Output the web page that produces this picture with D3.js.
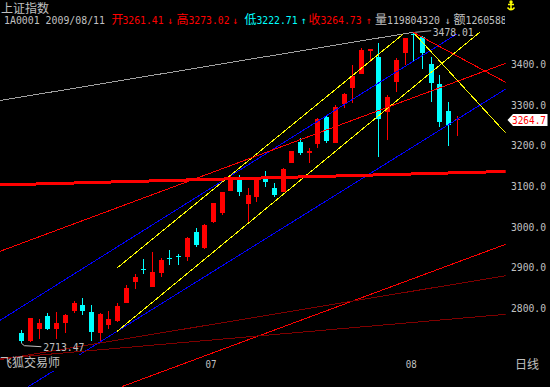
<!DOCTYPE html>
<html>
<head>
<meta charset="utf-8">
<script src="https://cdn.jsdelivr.net/npm/d3@7"></script>
<style>
  html, body { margin: 0; padding: 0; background: #000; overflow: hidden; }
</style>
</head>
<body>
<div id="root"></div>
<script>
// daily bars, 2009-06-02 .. 2009-08-11
const dates = [
  "06-02","06-03","06-04","06-05","06-08","06-09","06-10","06-11","06-12","06-15",
  "06-16","06-17","06-18","06-19","06-22","06-23","06-24","06-25","06-26","06-29",
  "06-30","07-01","07-02","07-03","07-06","07-07","07-08","07-09","07-10","07-13",
  "07-14","07-15","07-16","07-17","07-20","07-21","07-22","07-23","07-24","07-27",
  "07-28","07-29","07-30","07-31","08-03","08-04","08-05","08-06","08-07","08-10",
  "08-11"
];
const open = [
  2737.8, 2719.6, 2748.4, 2780.3, 2748.4, 2763.2, 2793.4, 2807.4, 2790.9, 2739.3,
  2758.2, 2768.8, 2811.6, 2864.7, 2895.5, 2850.9, 2886.8, 2922.5, 2927.5, 2926.1,
  2987.6, 2946.8, 3012.2, 3034.3, 3088.4, 3114.8, 3055.0, 3072.2, 3116.5, 3094.3,
  3086.0, 3155.8, 3208.9, 3180.4, 3202.5, 3270.4, 3206.5, 3300.9, 3340.2, 3374.7,
  3432.7, 3418.0, 3281.2, 3356.5, 3426.3, 3474.5, 3467.1, 3400.0, 3350.1, 3284.4,
  3261.41
];
const high = [
  2745.9, 2776.2, 2772.2, 2787.7, 2790.9, 2785.3, 2817.2, 2824.6, 2807.4, 2788.4,
  2792.6, 2811.6, 2856.6, 2884.3, 2919.8, 2937.7, 2923.7, 2942.6, 2932.0, 2973.9,
  2996.0, 3006.6, 3058.9, 3086.0, 3127.0, 3127.0, 3095.8, 3122.9, 3136.9, 3108.1,
  3145.0, 3186.1, 3217.3, 3194.2, 3268.0, 3274.6, 3299.2, 3329.4, 3397.5, 3439.3,
  3436.1, 3450.9, 3323.8, 3414.0, 3463.2, 3478.01, 3470.0, 3418.0, 3373.0, 3305.8,
  3273.02
];
const low = [
  2713.47, 2716.4, 2724.5, 2745.9, 2724.5, 2739.3, 2787.0, 2782.8, 2719.6, 2719.6,
  2747.6, 2764.8, 2811.6, 2846.7, 2882.8, 2850.9, 2877.0, 2905.7, 2905.7, 2916.3,
  2950.7, 2944.3, 3008.3, 3028.7, 3088.4, 3076.2, 3009.8, 3061.4, 3098.3, 3073.7,
  3086.0, 3155.8, 3176.2, 3157.3, 3192.7, 3206.5, 3206.5, 3291.1, 3304.8, 3374.7,
  3404.2, 3172.0, 3213.1, 3331.9, 3397.5, 3404.2, 3388.0, 3307.3, 3245.8, 3199.1,
  3222.71
];
const close = [
  2719.6, 2776.2, 2763.2, 2748.4, 2763.2, 2782.9, 2813.0, 2793.4, 2740.3, 2785.3,
  2772.2, 2805.7, 2849.9, 2877.0, 2895.0, 2888.5, 2918.0, 2922.0, 2927.0, 2972.1,
  2954.9, 3004.1, 3058.9, 3084.5, 3121.4, 3086.0, 3077.9, 3118.9, 3110.6, 3077.9,
  3141.8, 3186.1, 3181.9, 3186.1, 3264.8, 3210.6, 3295.0, 3326.2, 3370.5, 3434.4,
  3436.1, 3264.8, 3319.6, 3409.8, 3463.2, 3471.4, 3426.3, 3352.5, 3258.1, 3250.0,
  3264.73
];
const priceTicks = [2800, 2900, 3000, 3100, 3200, 3300, 3400];
const monthTicks = [["07-01", "07"], ["08-03", "08"]];

// hand drawn trend lines: [bar index, price, bar index, price]
const trendLines = [
  ["gray",        [-2.45, 3310.2, 45, 3478.01]],
  ["blueUpper",   [-2.45, 2769.5, 50, 3473.8]],
  ["blueLower",   [-2.45, 2563.2, 55.62, 3338.5]],
  ["yellowUpper", [10.95, 2897.6, 43.86, 3473.8]],
  ["yellowLower", [10.95, 2741.7, 52.67, 3478.6]],
  ["yellowDown",  [45, 3478.01, 55.62, 3230.3]],
  ["redDown",     [45, 3478.01, 55.62, 3355.0]],
  ["redMid",      [-2.45, 2939.4, 55.62, 3401.7]],
  ["redLow",      [11.52, 2606.5, 55.62, 2956.7]],
  ["redThick",    [-2.45, 3102.5, 55.62, 3135.7]]
];
const lateLines = [
  ["darkRedA",    [-2.45, 2673.1, 55.62, 2879.4]],
  ["darkRedB",    [-2.45, 2675.8, 55.62, 2784.5]]
];

const RED = "#ff0000", CYAN = "#00ffff", GRAY = "#c0c0c0";
const mono = "DejaVu Sans Mono, monospace";
const cjk = "Noto Sans CJK SC, sans-serif";
const lineStyle = {
  gray: ["#a0a0a0", 1], blueUpper: ["#0000ff", 1], blueLower: ["#0000ff", 1],
  yellowUpper: ["#ffff00", 1], yellowLower: ["#ffff00", 1], yellowDown: ["#ffff00", 1],
  redDown: [RED, 1], redMid: [RED, 1], redLow: [RED, 1], redThick: [RED, 3],
  darkRedA: ["#800000", 1], darkRedB: ["#800000", 1]
};

const width = 550, height = 387, plotRight = 505.7;

const svg = d3.select("#root").append("svg")
  .attr("width", width).attr("height", height)
  .style("display", "block").style("background", "#000");

svg.append("clipPath").attr("id", "plot")
  .append("rect").attr("x", 0).attr("y", 0).attr("width", plotRight).attr("height", height);
svg.append("clipPath").attr("id", "head")
  .append("rect").attr("x", 0).attr("y", 0).attr("width", 505).attr("height", 30);

const x = d3.scaleLinear().domain([0, dates.length - 1]).range([21.35, 456.75]);
const y = d3.scaleLinear().domain([2800, 3400]).range([308, 64]);

const bars = dates.map((d, i) => ({ d, i, o: open[i], h: high[i], l: low[i], c: close[i] }));

// candles
const cg = svg.append("g").attr("shape-rendering", "crispEdges");
const candle = cg.selectAll("g").data(bars).join("g")
  .attr("fill", (b) => (b.c >= b.o ? RED : CYAN))
  .attr("stroke", (b) => (b.c >= b.o ? RED : CYAN));
candle.append("line")
  .attr("x1", (b) => Math.round(x(b.i)) + 0.5).attr("x2", (b) => Math.round(x(b.i)) + 0.5)
  .attr("y1", (b) => y(b.h)).attr("y2", (b) => y(b.l));
candle.append("rect")
  .attr("stroke", "none")
  .attr("x", (b) => Math.round(x(b.i)) - 2)
  .attr("width", 5)
  .attr("y", (b) => y(Math.max(b.o, b.c)))
  .attr("height", (b) => Math.max(1, Math.abs(y(b.o) - y(b.c))));

// trend lines
const drawLines = (list) => svg.append("g").attr("clip-path", "url(#plot)")
  .attr("shape-rendering", "crispEdges")
  .selectAll("line").data(list).join("line")
  .attr("x1", (t) => x(t[1][0])).attr("y1", (t) => y(t[1][1]))
  .attr("x2", (t) => x(t[1][2])).attr("y2", (t) => y(t[1][3]))
  .attr("stroke", (t) => lineStyle[t[0]][0])
  .attr("stroke-width", (t) => lineStyle[t[0]][1]);
drawLines(trendLines);

// box behind the software name
svg.append("rect").attr("x", 0).attr("y", 355).attr("width", 82).attr("height", 16).attr("fill", "#000");
drawLines(lateLines);

svg.append("text").text("飞狐交易师")
  .attr("x", 0).attr("y", 367).attr("fill", GRAY)
  .attr("font-family", cjk).attr("font-size", 12);

// min / max markers
const maxI = high.indexOf(d3.max(high));
const minI = low.indexOf(d3.min(low));
svg.append("line")
  .attr("x1", x(maxI) + 2).attr("y1", y(high[maxI]))
  .attr("x2", x(maxI) + 18).attr("y2", y(high[maxI]) - 1.5)
  .attr("stroke", "#a0a0a0");
svg.append("text").text(high[maxI].toFixed(2))
  .attr("x", x(maxI) + 19.5).attr("y", y(high[maxI]) + 3.8)
  .attr("fill", GRAY).attr("font-family", mono).attr("font-size", 10)
  .attr("textLength", 41).attr("lengthAdjust", "spacingAndGlyphs");

const ly = y(low[minI]);
svg.append("path")
  .attr("d", `M${x(minI)},${ly} L${x(minI) + 3},${ly + 2.5} L${x(minI) + 20},${ly + 3.5}`)
  .attr("fill", "none").attr("stroke", GRAY);
svg.append("text").text(low[minI].toFixed(2))
  .attr("x", x(minI) + 22).attr("y", ly + 8)
  .attr("fill", GRAY).attr("font-family", mono).attr("font-size", 11)
  .attr("textLength", 41).attr("lengthAdjust", "spacingAndGlyphs");

// price axis
svg.append("g").selectAll("text").data(priceTicks).join("text")
  .text((p) => p.toFixed(1))
  .attr("x", 511).attr("y", (p) => y(p) + 4)
  .attr("fill", GRAY).attr("font-family", mono).attr("font-size", 11)
  .attr("textLength", 35).attr("lengthAdjust", "spacingAndGlyphs");

// last price tag
const last = close[close.length - 1];
const ty = y(last) + 1;
svg.append("path")
  .attr("d", `M507.5,${ty} L513,${ty - 6} L547.5,${ty - 6} L547.5,${ty + 6} L513,${ty + 6} Z`)
  .attr("fill", "#fff");
svg.append("text").text(last.toFixed(1))
  .attr("x", 512).attr("y", ty + 4)
  .attr("fill", RED).attr("font-family", mono).attr("font-size", 10)
  .attr("textLength", 34).attr("lengthAdjust", "spacingAndGlyphs");

// month axis
svg.append("g").selectAll("text").data(monthTicks).join("text")
  .text((m) => m[1])
  .attr("x", (m) => x(dates.indexOf(m[0])) + 1.3).attr("y", 368)
  .attr("fill", GRAY).attr("font-family", mono).attr("font-size", 11)
  .attr("textLength", 11).attr("lengthAdjust", "spacingAndGlyphs");
svg.append("text").text("日线")
  .attr("x", 515).attr("y", 369).attr("fill", GRAY)
  .attr("font-family", cjk).attr("font-size", 12);

// header
svg.append("text").text("上证指数")
  .attr("x", 1).attr("y", 13).attr("fill", GRAY)
  .attr("font-family", cjk).attr("font-size", 12);

const lastBar = bars[bars.length - 1];
const headerParts = [
  ["1A0001 2009/08/" + lastBar.d.slice(3), 4, GRAY, "m"],
  ["开", 111.5, RED, "c"], [lastBar.o.toFixed(2), 122.5, RED, "m"], ["↓", 170, RED, "a"],
  ["高", 176.5, RED, "c"], [lastBar.h.toFixed(2), 188.5, RED, "m"], ["↓", 235, RED, "a"],
  ["低", 244.5, CYAN, "c"], [lastBar.l.toFixed(2), 256.5, CYAN, "m"], ["↑", 303.5, CYAN, "a"],
  ["收", 308.5, RED, "c"], [lastBar.c.toFixed(2), 320.5, RED, "m"], ["↑", 368.5, RED, "a"],
  ["量", 375, GRAY, "c"], ["119804320", 387, GRAY, "m"], ["↓", 447.5, GRAY, "a"],
  ["额", 453.5, GRAY, "c"], ["126058800", 465.5, GRAY, "m"]
];
const hg = svg.append("g").attr("clip-path", "url(#head)");
headerParts.forEach(([s, px, col, kind]) => {
  const t = hg.append("text").text(s).attr("x", px).attr("y", 24).attr("fill", col);
  if (kind === "m") {
    t.attr("font-family", mono).attr("font-size", 10)
      .attr("textLength", s.length * 6 - 1).attr("lengthAdjust", "spacingAndGlyphs");
  } else if (kind === "c") {
    t.attr("font-family", cjk).attr("font-size", 12);
  } else {
    t.attr("font-family", mono).attr("font-size", 10)
      .attr("text-anchor", "middle");
  }
});

// small yellow marker icon, top right
const icon = svg.append("g").attr("stroke", "#ffff00").attr("fill", "none").attr("stroke-width", 1.5);
icon.append("path").attr("d", "M511,2 L511,10 M508,4.5 L514,4.5 M507.5,7.5 Q511,12 514.5,7.5");
icon.append("circle").attr("cx", 511).attr("cy", 2).attr("r", 1).attr("fill", "#ffff00");
</script>
</body>
</html>
